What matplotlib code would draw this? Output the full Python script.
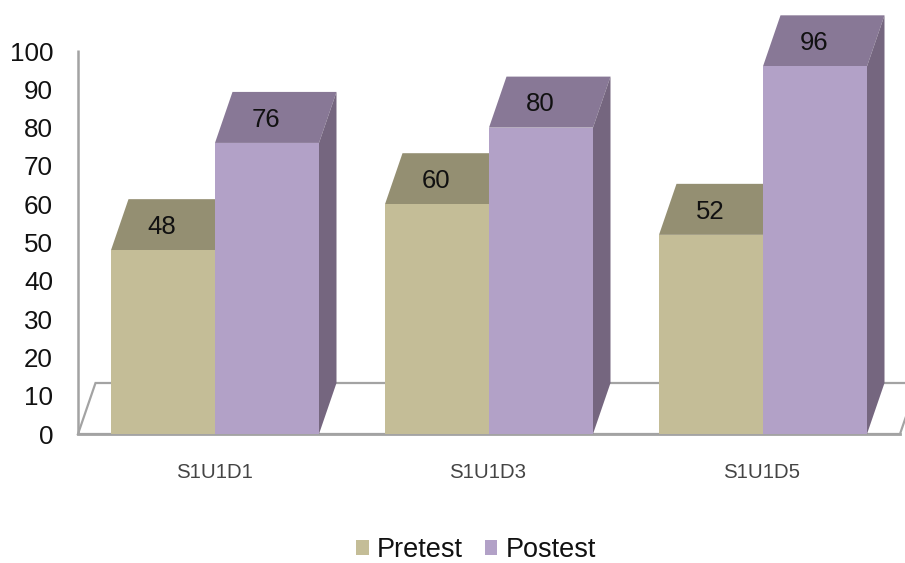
import numpy as np
import matplotlib
matplotlib.use("Agg")
import matplotlib.pyplot as plt
from matplotlib.patches import Polygon, Patch
from matplotlib.transforms import ScaledTranslation

plt.rcParams['font.family'] = ['Liberation Sans', 'DejaVu Sans']

categories = ['S1U1D1', 'S1U1D3', 'S1U1D5']
pretest = [48, 60, 52]
postest = [76, 80, 96]
yticks = list(range(0, 101, 10))

W, H = 905, 563
fig = plt.figure(figsize=(W / 100, H / 100), dpi=100, facecolor='white')
ax = fig.add_axes([78 / W, (H - 434) / H, 822 / W, 383 / H])
ax.set_xlim(-0.5, 2.5)
ax.set_ylim(0, 100)

BW = 104 / 274
DX = 17.5 / 274
DY = 51 / 3.83
x = np.arange(len(categories))

grey = '#A3A3A3'
ax.add_patch(Polygon([(-0.5, 0), (2.5, 0), (2.5 + DX, DY), (-0.5 + DX, DY)],
                     closed=True, fc='white', ec=grey, lw=1.6, clip_on=False, zorder=1))
ax.plot([-0.5, -0.5], [0, 100.3], color=grey, lw=1.8, clip_on=False, zorder=1.5,
        solid_capstyle='butt')
ax.plot([-0.5, 2.5], [0, 0], color=grey, lw=2.0, clip_on=False, zorder=1.5)


def box(x0, value, front, top, side, z):
    ax.bar(x0, value, width=BW, align='edge', color=front, lw=0, zorder=z + 0.2, clip_on=False)
    ax.add_patch(Polygon([(x0, value), (x0 + BW, value), (x0 + BW + DX, value + DY), (x0 + DX, value + DY)],
                         closed=True, fc=top, ec='none', clip_on=False, zorder=z))
    ax.add_patch(Polygon([(x0 + BW, 0), (x0 + BW + DX, DY), (x0 + BW + DX, value + DY), (x0 + BW, value)],
                         closed=True, fc=side, ec='none', clip_on=False, zorder=z + 0.1))
    ax.text(x0 + BW / 2 - 0.003, value + DY / 2 - 0.6, str(value), ha='center', va='center',
            fontsize=18.5, color='#111111', zorder=6)


for i in x:
    box(i - BW, pretest[i], '#C4BD97', '#948F72', '#77725B', 2)
    box(i, postest[i], '#B2A1C7', '#887896', '#75667F', 3)

for s in ax.spines.values():
    s.set_visible(False)
ax.patch.set_alpha(0)
ax.set_yticks(yticks)
ax.set_yticklabels([str(v) for v in yticks], fontsize=18.7, color='#111111')
ax.tick_params(axis='y', length=0, pad=18)
ax.set_xticks(x)
ax.set_xticklabels(categories, fontsize=14.7, color='#444444')
ax.tick_params(axis='x', length=0, pad=21)
shift = ScaledTranslation(-1.0 / 100, 0, fig.dpi_scale_trans)
for lab in ax.get_xticklabels():
    lab.set_transform(lab.get_transform() + shift)

handles = [Patch(fc='#C4BD97', ec='none', label='Pretest'),
           Patch(fc='#B2A1C7', ec='none', label='Postest')]
fig.legend(handles=handles, loc='center', bbox_to_anchor=(476 / W, (H - 550) / H), ncol=2, frameon=False,
           fontsize=19.5, handlelength=0.47, handleheight=0.47, handletextpad=0.3,
           columnspacing=0.8, borderpad=0, borderaxespad=0, labelcolor='#111111')

fig.savefig('out.png', dpi=100, facecolor='white')
